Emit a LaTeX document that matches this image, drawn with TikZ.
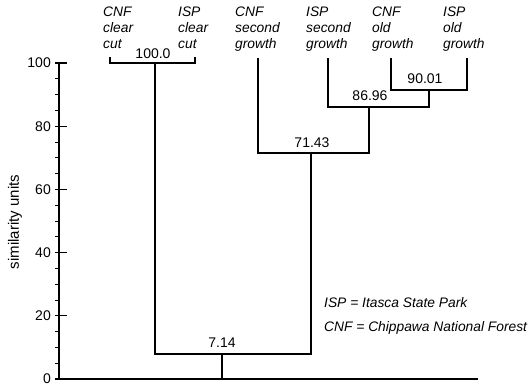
\documentclass[tikz,border=0pt]{standalone}
\usepackage{fontspec}
\setmainfont{Liberation Sans}
\begin{document}
\begin{tikzpicture}[x=1pt,y=-1pt,
  tree/.style={line width=2.6pt,line cap=rect},
  axisline/.style={line width=1.2pt},
  leaflab/.style={anchor=north west,inner sep=0pt,align=left,font=\fontsize{13.8}{16}\selectfont\itshape},
  numlab/.style={anchor=base,inner sep=0pt,font=\fontsize{14}{16}\selectfont},
  ticklab/.style={anchor=east,inner sep=0pt,font=\fontsize{14}{16}\selectfont},
  legend/.style={anchor=base west,inner sep=0pt,font=\fontsize{13.8}{16}\selectfont\itshape}]
\useasboundingbox (0,0) rectangle (530,389);
\fill[white] (0,0) rectangle (530,389);
% axis
\coordinate (ytop) at (59,63);
\coordinate (origin) at (59,379);
\coordinate (xend) at (478,379);
\draw[axisline] (ytop) -- (origin) -- (xend);
\foreach \v in {0,20,40,60,80,100}{
  \draw[axisline] (55,{379-3.16*\v}) -- (67,{379-3.16*\v});
  \node[ticklab] (t\v) at (51,{379-3.16*\v}) {\v};
}
\foreach \v in {5,10,15,25,30,35,45,50,55,65,70,75,85,90,95}{
  \draw[line width=0.8pt] (55,{379-3.16*\v}) -- (59,{379-3.16*\v});
}
\node[rotate=90,inner sep=0pt,font=\fontsize{15}{18}\selectfont] (ylab) at (15,222) {similarity units};
% leaf tops
\coordinate (L1) at (110,58);
\coordinate (L2) at (195,58);
\coordinate (L3) at (258,59);
\coordinate (L4) at (328,59);
\coordinate (L5) at (391,59);
\coordinate (L6) at (467,59);
% cluster 100.0
\coordinate (a1) at (110,63);
\coordinate (a2) at (195,63);
\coordinate (aC) at (155,63);
\draw[tree] (L1) -- (a1) -- (a2) -- (L2);
% cluster 90.01
\coordinate (b1) at (391,90);
\coordinate (b2) at (467,90);
\coordinate (bC) at (429,90);
\draw[tree] (L5) -- (b1) -- (b2) -- (L6);
% cluster 86.96
\coordinate (c1) at (328,107);
\coordinate (c2) at (429,107);
\coordinate (cC) at (369,107);
\draw[tree] (L4) -- (c1) -- (c2) -- (bC);
% cluster 71.43
\coordinate (d1) at (258,153);
\coordinate (d2) at (369,153);
\coordinate (dC) at (311,153);
\draw[tree] (L3) -- (d1) -- (d2) -- (cC);
% cluster 7.14
\coordinate (e1) at (155,354);
\coordinate (e2) at (311,354);
\coordinate (eC) at (222,354);
\coordinate (root) at (222,379);
\draw[tree] (aC) -- (e1) -- (e2) -- (dC);
\draw[tree] (eC) -- (root);
% numbers
\node[numlab] (n1) at (153,58) {100.0};
\node[numlab] (n2) at (425,83) {90.01};
\node[numlab] (n3) at (370,100) {86.96};
\node[numlab] (n4) at (312,147) {71.43};
\node[numlab] (n5) at (222,347) {7.14};
% leaf labels
\node[leaflab] (lab1) at (103,7) {CNF\\clear\\cut};
\node[leaflab] (lab2) at (178,7) {ISP\\clear\\cut};
\node[leaflab] (lab3) at (235,7) {CNF\\second\\growth};
\node[leaflab] (lab4) at (306,7) {ISP\\second\\growth};
\node[leaflab] (lab5) at (372,7) {CNF\\old\\growth};
\node[leaflab] (lab6) at (443,7) {ISP\\old\\growth};
% legend
\node[legend] (leg1) at (324,307) {ISP = Itasca State Park};
\node[legend] (leg2) at (324,331) {CNF = Chippawa National Forest};
\end{tikzpicture}
\end{document}
